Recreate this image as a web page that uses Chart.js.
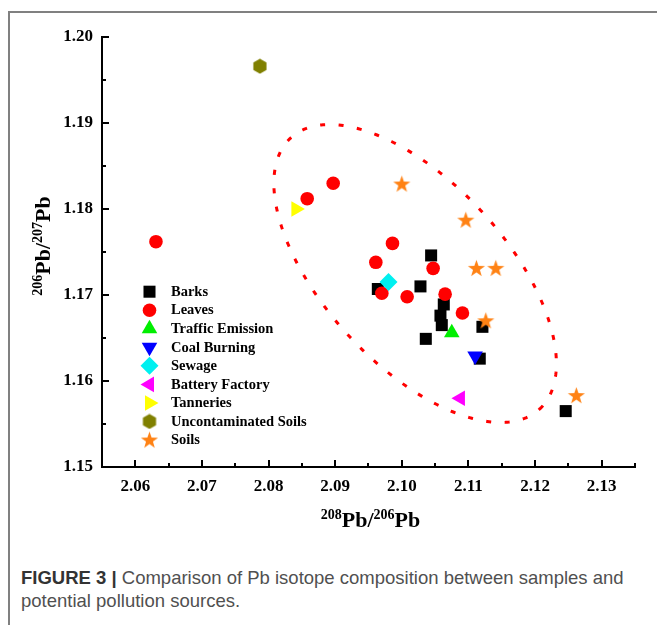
<!DOCTYPE html>
<html>
<head>
<meta charset="utf-8">
<script src="https://cdn.jsdelivr.net/npm/chart.js@4"></script>
<style>
  body { margin: 0; background: #fff; width: 657px; height: 625px; overflow: hidden; position: relative; }
  #frame { position: absolute; left: 8px; top: 11px; right: -4px; bottom: -4px;
           border-top: 2px solid #808080; border-left: 2px solid #808080; }
  #wrap { position: absolute; left: 0; top: 0; width: 657px; height: 545px; }
  #caption { position: absolute; left: 21px; top: 566px; width: 634px;
             font: 18.5px "Liberation Sans", Arial, sans-serif; line-height: 23px; color: #505050; }
  #caption b { color: #333; }
</style>
</head>
<body>
<div id="frame"></div>
<div id="wrap"><canvas id="chart" width="657" height="545"></canvas></div>
<div id="caption"><b>FIGURE 3 |</b> Comparison of Pb isotope composition between samples and<br>potential pollution sources.</div>

<script>
// 208Pb/206Pb (x), 206Pb/207Pb (y) pairs
const barks = [[2.0964, 1.1707], [2.1044, 1.1746], [2.1028, 1.1710], [2.1063, 1.1689], [2.1058, 1.1676],
               [2.1060, 1.1665], [2.1036, 1.1649], [2.1121, 1.1663], [2.1117, 1.1626], [2.1246, 1.1565]];
const leaves = [[2.0631, 1.1762], [2.0858, 1.1812], [2.0897, 1.1830], [2.0986, 1.1760], [2.0961, 1.1738],
                [2.1047, 1.1731], [2.0970, 1.1702], [2.1008, 1.1698], [2.1065, 1.1701], [2.1091, 1.1679]];
const trafficEmission = [[2.1075, 1.1656]];
const coalBurning = [[2.1110, 1.1629]];
const sewage = [[2.0980, 1.1715]];
const batteryFactory = [[2.1088, 1.1580]];
const tanneries = [[2.0841, 1.1800]];
const uncontaminatedSoils = [[2.0787, 1.1966]];
const soils = [[2.1000, 1.1829], [2.1096, 1.1787], [2.1112, 1.1731], [2.1141, 1.1731], [2.1126, 1.1670], [2.1262, 1.1583]];

const seriesNames = ['Barks', 'Leaves', 'Traffic Emission', 'Coal Burning', 'Sewage',
                     'Battery Factory', 'Tanneries', 'Uncontaminated Soils', 'Soils'];

const xTicks = [2.06, 2.07, 2.08, 2.09, 2.10, 2.11, 2.12, 2.13];
const yTicks = [1.15, 1.16, 1.17, 1.18, 1.19, 1.20];

// dotted ellipse around the sample cluster: centre and two half-axis vectors, in data units
const ellipseCentre = [2.1020, 1.1725];
const ellipseMajor = [0.01866, -0.01578];
const ellipseMinor = [0.01007, 0.00715];

const serif = '"Liberation Serif", "Times New Roman", serif';

function makeStar(color) {
  const c = document.createElement('canvas');
  c.width = 19; c.height = 19;
  const g = c.getContext('2d');
  g.fillStyle = color;
  g.beginPath();
  for (let i = 0; i < 10; i++) {
    const r = i % 2 ? 3.6 : 9;
    const a = -Math.PI / 2 + i * Math.PI / 5;
    g.lineTo(9.5 + r * Math.cos(a), 10 + r * Math.sin(a));
  }
  g.closePath();
  g.fill();
  return c;
}

function makeHexagon(color) {
  const c = document.createElement('canvas');
  c.width = 16; c.height = 16;
  const g = c.getContext('2d');
  g.fillStyle = color;
  g.beginPath();
  for (let i = 0; i < 6; i++) {
    const a = -Math.PI / 2 + i * Math.PI / 3;
    g.lineTo(8 + 7.6 * Math.cos(a), 8 + 7.6 * Math.sin(a));
  }
  g.closePath();
  g.fill();
  return c;
}

const toPoints = arr => arr.map(p => ({ x: p[0], y: p[1] }));

const styles = [
  { data: barks, color: '#000000', style: 'rect', radius: 8.5, rotation: 0 },
  { data: leaves, color: '#ff0000', style: 'circle', radius: 6.8, rotation: 0 },
  { data: trafficEmission, color: '#00ee00', style: 'triangle', radius: 9, rotation: 0 },
  { data: coalBurning, color: '#0000ff', style: 'triangle', radius: 9, rotation: 180 },
  { data: sewage, color: '#00f0f0', style: 'rectRot', radius: 9, rotation: 0 },
  { data: batteryFactory, color: '#ff00ff', style: 'triangle', radius: 9, rotation: 270 },
  { data: tanneries, color: '#ffff00', style: 'triangle', radius: 9, rotation: 90 },
  { data: uncontaminatedSoils, color: '#808000', style: makeHexagon('#808000'), radius: 8, rotation: 0 },
  { data: soils, color: '#ff8214', style: makeStar('#ff8214'), radius: 9, rotation: 0 }
];

const datasets = styles.map((s, i) => ({
  label: seriesNames[i],
  data: toPoints(s.data),
  pointStyle: s.style,
  pointRadius: s.radius,
  pointRotation: s.rotation,
  backgroundColor: s.color,
  borderColor: s.color,
  borderWidth: 0,
  order: styles.length - i
}));

// dotted ellipse, drawn behind the markers
const ellipsePlugin = {
  id: 'ellipse',
  beforeDatasetsDraw(chart) {
    const xs = chart.scales.x, ys = chart.scales.y, ctx = chart.ctx;
    ctx.save();
    ctx.strokeStyle = '#ff0000';
    ctx.lineWidth = 3;
    ctx.setLineDash([5, 13.5]);
    ctx.beginPath();
    for (let k = 0; k <= 360; k++) {
      const t = k * Math.PI / 180;
      const vx = ellipseCentre[0] + Math.cos(t) * ellipseMajor[0] + Math.sin(t) * ellipseMinor[0];
      const vy = ellipseCentre[1] + Math.cos(t) * ellipseMajor[1] + Math.sin(t) * ellipseMinor[1];
      const px = xs.getPixelForValue(vx), py = ys.getPixelForValue(vy);
      if (k === 0) ctx.moveTo(px, py); else ctx.lineTo(px, py);
    }
    ctx.stroke();
    ctx.restore();
  }
};

function drawRich(ctx, parts, x, y) {
  const big = 'bold 22px ' + serif, small = 'bold 14px ' + serif;
  let total = 0;
  parts.forEach(p => { ctx.font = p.sup ? small : big; total += ctx.measureText(p.t).width; });
  let cx = x - total / 2;
  parts.forEach(p => {
    ctx.font = p.sup ? small : big;
    ctx.fillText(p.t, cx, p.sup ? y - 8.5 : y);
    cx += ctx.measureText(p.t).width;
  });
}

// inward ticks, axis titles and the legend inside the plot
const decorPlugin = {
  id: 'decor',
  afterDraw(chart) {
    const ctx = chart.ctx, xs = chart.scales.x, ys = chart.scales.y, area = chart.chartArea;
    ctx.save();
    ctx.strokeStyle = '#000';
    ctx.lineWidth = 2;
    ctx.beginPath();
    xTicks.forEach(v => {
      const p = Math.round(xs.getPixelForValue(v));
      ctx.moveTo(p, area.bottom); ctx.lineTo(p, area.bottom - 7);
      const m = Math.round(xs.getPixelForValue(v + 0.005));
      if (m <= area.right + 1) { ctx.moveTo(m, area.bottom); ctx.lineTo(m, area.bottom - 4); }
    });
    yTicks.forEach(v => {
      const p = Math.round(ys.getPixelForValue(v));
      ctx.moveTo(area.left, p); ctx.lineTo(area.left + 7, p);
      const m = Math.round(ys.getPixelForValue(v + 0.005));
      if (m >= area.top - 1) { ctx.moveTo(area.left, m); ctx.lineTo(area.left + 4, m); }
    });
    ctx.stroke();

    // axis titles
    ctx.fillStyle = '#000';
    ctx.textAlign = 'left';
    ctx.textBaseline = 'alphabetic';
    drawRich(ctx, [{ t: '208', sup: true }, { t: 'Pb' }, { t: '/' }, { t: '206', sup: true }, { t: 'Pb' }],
             (area.left + area.right) / 2 + 2, 527);
    ctx.save();
    ctx.translate(50, (area.top + area.bottom) / 2 - 6);
    ctx.rotate(-Math.PI / 2);
    drawRich(ctx, [{ t: '206', sup: true }, { t: 'Pb' }, { t: '/' }, { t: '207', sup: true }, { t: 'Pb' }], 0, 0);
    ctx.restore();

    // legend
    ctx.font = 'bold 14.5px ' + serif;
    ctx.textBaseline = 'middle';
    chart.data.datasets.forEach((ds, i) => {
      const y = 291.7 + i * 18.54;
      ctx.fillStyle = ds.backgroundColor;
      ctx.strokeStyle = ds.backgroundColor;
      Chart.helpers.drawPoint(ctx, {
        pointStyle: ds.pointStyle, radius: ds.pointRadius, rotation: ds.pointRotation, borderWidth: 0
      }, 149.5, y);
      ctx.fillStyle = '#000';
      ctx.fillText(ds.label, 171, y + 0.5);
    });
    ctx.restore();
  }
};

new Chart(document.getElementById('chart'), {
  type: 'scatter',
  data: { datasets },
  options: {
    responsive: false,
    animation: false,
    events: [],
    layout: { padding: { left: 0, top: 37, right: 22, bottom: 18 } },
    plugins: { legend: { display: false }, tooltip: { enabled: false } },
    scales: {
      x: {
        type: 'linear', min: 2.055, max: 2.135,
        afterFit: s => { s.height = 60; },
        afterBuildTicks: s => { s.ticks = xTicks.map(v => ({ value: v })); },
        grid: { display: false, drawTicks: false },
        border: { display: true, color: '#000', width: 2 },
        ticks: { color: '#000', padding: 9, maxRotation: 0, font: { family: serif, weight: 'bold', size: 17 },
                 callback: v => v.toFixed(2) }
      },
      y: {
        type: 'linear', min: 1.15, max: 1.20,
        afterFit: s => { s.width = 102; },
        afterBuildTicks: s => { s.ticks = yTicks.map(v => ({ value: v })); },
        grid: { display: false, drawTicks: false },
        border: { display: true, color: '#000', width: 2 },
        ticks: { color: '#000', padding: 9, font: { family: serif, weight: 'bold', size: 17 },
                 callback: v => v.toFixed(2) }
      }
    }
  },
  plugins: [ellipsePlugin, decorPlugin]
});
</script>
</body>
</html>
